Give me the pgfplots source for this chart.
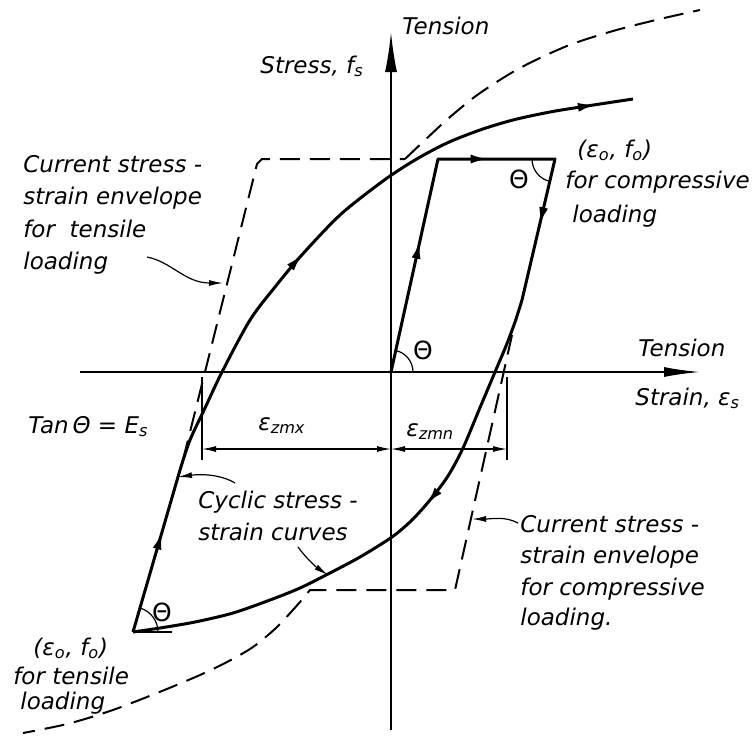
\documentclass[border=0pt]{standalone}
\usepackage{fontspec}
\setmainfont{DejaVu Sans}
\usepackage{pgfplots}
\pgfplotsset{compat=1.18}
\usetikzlibrary{arrows.meta,decorations.markings}
\newcommand\ah{\arrow{Latex[length=9pt,width=4.5pt]}}
\tikzset{
  crv/.style={line width=1.5pt,line join=round},
  dsh/.style={line width=1pt,dash pattern=on 10pt off 5pt},
  thinl/.style={line width=0.6pt},
  lbl/.style={font=\fontsize{11.5}{16}\selectfont\itshape,inner sep=0pt,anchor=base west},
}
\begin{document}
\begin{tikzpicture}
\begin{axis}[width=376.5pt,height=368pt,scale only axis,
  xmin=0,xmax=753,ymin=-736,ymax=0,hide axis,clip=false]
\coordinate (SW) at (axis cs:0,-736);
\coordinate (NE) at (axis cs:753,0);
% axes
\addplot[line width=0.9pt,-{Latex[length=20pt,width=6pt]}] coordinates {(391,-730) (391,-32)};
\addplot[line width=0.9pt,-{Latex[length=18pt,width=5pt]}] coordinates {(80,-372) (700,-372)};
% tensile envelope (dashed)
\addplot[dsh] coordinates {(183,-460) (257,-164) (262,-159) (405,-159)};
\addplot[dsh,smooth] coordinates {(405,-159) (425,-140) (450,-117) (480,-93) (520,-68) (567,-46) (613,-31) (660,-19) (700,-10)};
% compressive envelope (dashed)
\addplot[dsh] coordinates {(512,-335) (455,-590) (310,-590) (300,-602)};
\addplot[dsh,smooth] coordinates {(300,-602) (277,-627) (253,-647) (227,-662) (200,-675) (157,-693) (110,-711) (67,-724) (23,-733)};
% inner loop
\addplot[crv,postaction={decorate,decoration={markings,
   mark=at position 0.28 with {\ah},mark=at position 0.56 with {\ah},mark=at position 0.84 with {\ah}}}]
   coordinates {(391,-372) (438,-159) (555,-159) (522,-300)};
\addplot[crv,smooth,postaction={decorate,decoration={markings,mark=at position 0.41 with {\ah}}}]
   coordinates {(522,-300) (515,-322) (506,-346) (495,-372) (479,-410) (463,-448) (448,-476) (430,-500) (412,-520) (392,-537) (360,-557) (328,-574) (300,-588) (270,-600) (233,-613) (195,-622) (160,-628) (133,-632)};
\addplot[crv,postaction={decorate,decoration={markings,mark=at position 0.62 with {\ah}}}]
   coordinates {(133,-632) (180,-470)};
\addplot[crv,smooth,postaction={decorate,decoration={markings,
   mark=at position 0.40 with {\ah},mark=at position 0.94 with {\ah}}}]
   coordinates {(180,-470) (190,-440) (205,-408) (222,-372) (250,-320) (275,-287) (300,-257) (340,-215) (383,-181) (415,-160) (447,-143) (480,-130) (513,-120) (550,-112) (587,-106) (633,-99)};
% theta markers
\addplot[line width=0.8pt] coordinates {(133,-632) (172,-632)};
\draw[thinl] (axis cs:413,-372) arc[start angle=0,end angle=77.6,radius=11pt];
\draw[thinl] (axis cs:532,-159) arc[start angle=180,end angle=256.7,radius=11.5pt];
\draw[thinl] (axis cs:158,-632) arc[start angle=0,end angle=73.8,radius=12.5pt];
% dimension lines
\addplot[thinl] coordinates {(202,-377) (202,-460)};
\addplot[thinl] coordinates {(507,-377) (507,-460)};
\addplot[thinl,{Latex[length=7pt,width=3pt]}-{Latex[length=7pt,width=3pt]}] coordinates {(202,-449) (391,-449)};
\addplot[thinl,{Latex[length=7pt,width=3pt]}-{Latex[length=7pt,width=3pt]}] coordinates {(391,-449) (507,-449)};
% leaders
\draw[thinl,-{Latex[length=7pt,width=3pt]}] (axis cs:147,-257) .. controls (axis cs:172,-262) and (axis cs:185,-283) .. (axis cs:223,-283);
\draw[thinl,-{Latex[length=7pt,width=3pt]}] (axis cs:235,-483) .. controls (axis cs:220,-474) and (axis cs:200,-474) .. (axis cs:178,-477);
\draw[thinl,-{Latex[length=7pt,width=3pt]}] (axis cs:298,-547) .. controls (axis cs:306,-558) and (axis cs:316,-567) .. (axis cs:328,-575);
\draw[thinl,-{Latex[length=7pt,width=3pt]}] (axis cs:518,-523) .. controls (axis cs:505,-516) and (axis cs:492,-519) .. (axis cs:472,-519);
% texts
\node[lbl] at (axis cs:402,-34) {Tension};
\node[lbl] at (axis cs:260,-73) {Stress, f\textsubscript{s}};
\node[lbl] at (axis cs:23,-172) {Current stress -};
\node[lbl] at (axis cs:23,-204) {strain envelope};
\node[lbl] at (axis cs:23,-237) {for\ \ tensile};
\node[lbl] at (axis cs:23,-269) {loading};
\node[lbl] at (axis cs:577,-157) {(ε\textsubscript{o}, f\textsubscript{o})};
\node[lbl] at (axis cs:565,-188) {for compressive};
\node[lbl] at (axis cs:572,-222) {loading};
\node[lbl] at (axis cs:638,-356) {Tension};
\node[lbl] at (axis cs:635,-405) {Strain, ε\textsubscript{s}};
\node[lbl] at (axis cs:28,-433) {Tan\,Θ = E\textsubscript{s}};
\node[lbl] at (axis cs:258,-430) {ε\textsubscript{zmx}};
\node[lbl] at (axis cs:406,-436) {ε\textsubscript{zmn}};
\node[lbl] at (axis cs:198,-508) {Cyclic stress -};
\node[lbl] at (axis cs:198,-540) {strain curves};
\node[lbl] at (axis cs:520,-532) {Current stress -};
\node[lbl] at (axis cs:520,-563) {strain envelope};
\node[lbl] at (axis cs:520,-595) {for compressive};
\node[lbl] at (axis cs:520,-625) {loading.};
\node[lbl] at (axis cs:33,-655) {(ε\textsubscript{o}, f\textsubscript{o})};
\node[lbl] at (axis cs:13,-684) {for tensile};
\node[lbl] at (axis cs:20,-709) {loading};
\node[font=\fontsize{12.5}{14}\selectfont,inner sep=0pt] at (axis cs:423,-350) {Θ};
\node[font=\fontsize{12.5}{14}\selectfont,inner sep=0pt] at (axis cs:519,-179) {Θ};
\node[font=\fontsize{12.5}{14}\selectfont,inner sep=0pt] at (axis cs:162,-612) {Θ};
\end{axis}
\pgfresetboundingbox
\path[use as bounding box] (SW) rectangle (NE);
\end{tikzpicture}
\end{document}
